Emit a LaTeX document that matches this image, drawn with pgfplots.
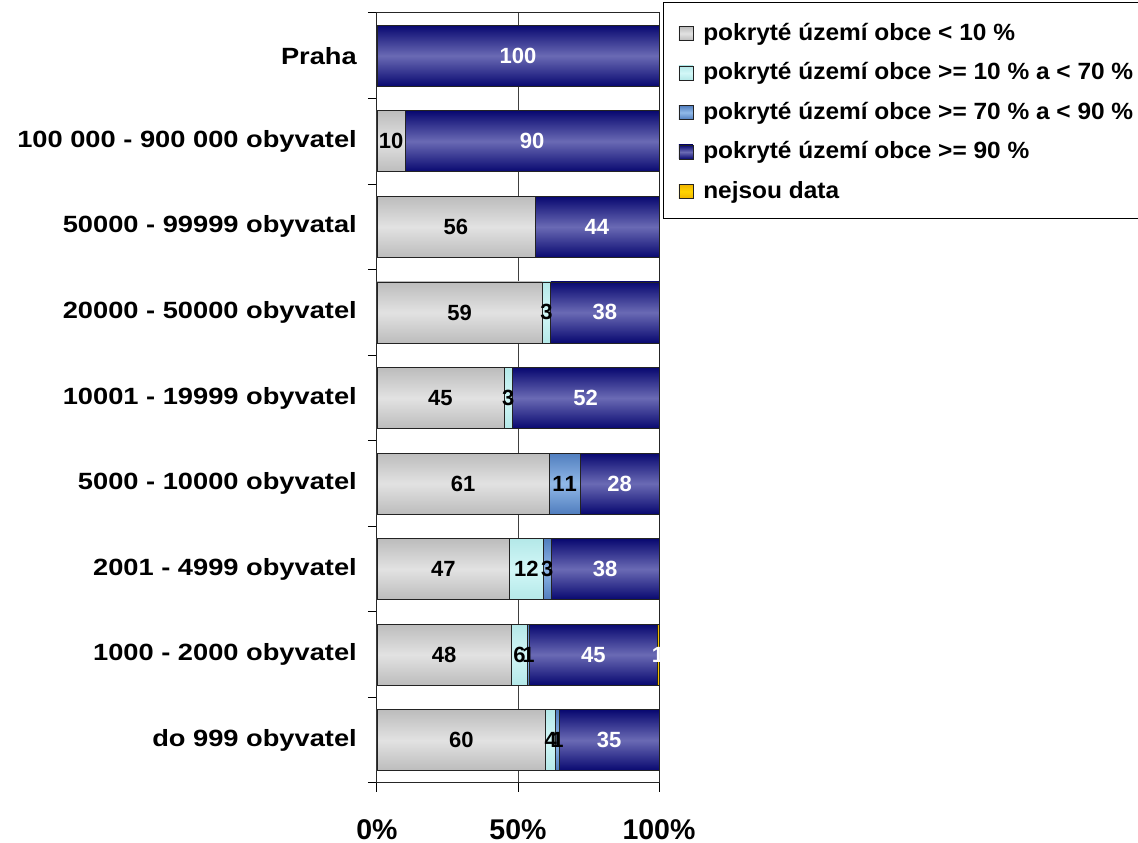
\documentclass[border=0pt]{standalone}
\usepackage{fontspec}
\setmainfont{Liberation Sans}[Kerning=Off]
\usepackage{graphicx}
\usepackage{pgfplots}
\usepackage{pgfplotstable}
\pgfplotsset{compat=1.18}

\definecolor{grayE}{RGB}{188,188,188}
\definecolor{grayM}{RGB}{226,226,226}
\definecolor{cyanE}{RGB}{180,232,232}
\definecolor{cyanM}{RGB}{210,247,247}
\definecolor{lbE}{RGB}{80,125,190}
\definecolor{lbM}{RGB}{145,185,232}
\definecolor{dbE}{RGB}{8,8,112}
\definecolor{dbM}{RGB}{106,106,180}
\definecolor{yelE}{RGB}{240,180,0}
\definecolor{yelM}{RGB}{255,212,0}
\definecolor{edge}{RGB}{35,35,35}

\newcommand{\lab}[1]{\scalebox{1.16}[1]{\bfseries\fontsize{23.5}{26}\selectfont #1}}
\newcommand{\leg}[1]{\scalebox{1.04}[1]{\bfseries\fontsize{23.5}{26}\selectfont #1}}

\pgfplotsset{
  segbar/.style n args={3}{
    only marks, scatter, mark=*, mark size=0pt, mark options={draw=none,fill=none},
    visualization depends on={\thisrow{#1} \as \w},
    scatter/@pre marker code/.code={%
      \pgfmathsetmacro\ww{\w*2.82}%
      \ifdim\ww pt>0.05pt
        \path[draw=edge, line width=0.8pt, top color=#2, bottom color=#2, middle color=#3]
          (-\ww pt,-30.5pt) rectangle (0pt,30.5pt);
      \fi},
    scatter/@post marker code/.code={},
    legend image code/.code={%
      \path[draw=edge, line width=0.8pt, top color=#2, bottom color=#2, middle color=#3]
        (0pt,0pt) rectangle (14pt,14pt);},
  },
}

\pgfplotstableread{
y a b c d e
8 0 0 0 100 0
7 10 0 0 90 0
6 56 0 0 44 0
5 58.6 3 0 38.4 0
4 45 3 0 52 0
3 61 0 11 28 0
2 47 12 2.8 38.2 0
1 47.6 5.8 0.7 45.2 0.7
0 59.8 3.6 1.2 35.4 0
}\datatable

\pgfplotstableread{
x y t
5 7 10
28 6 56
29.3 5 59
60.1 5 3
22.5 4 45
46.5 4 3
30.5 3 61
66.5 3 11
23.5 2 47
53 2 12
60.4 2 3
23.8 1 48
50.5 1 6
53.75 1 1
29.9 0 60
61.6 0 4
64 0 1
}\darklabels

\pgfplotstableread{
x y t
50 8 100
55 7 90
78 6 44
80.8 5 38
74 4 52
86 3 28
80.9 2 38
76.7 1 45
99.65 1 1
82.3 0 35
}\whitelabels

\begin{document}
\begin{tikzpicture}
\path[use as bounding box] (0,0) rectangle (1138pt,843pt);
\begin{axis}[
  at={(377pt,60pt)}, anchor=south west,
  scale only axis, width=282pt, height=770pt,
  xmin=0, xmax=100, ymin=-0.5, ymax=8.5,
  stack plots=x, clip=false,
  axis line style={draw=black!85, line width=1pt},
  xtick={0,50,100},
  xticklabels={\textbf{0\%},\textbf{50\%},\textbf{100\%}},
  ytick={0,...,8},
  yticklabels={\lab{do 999 obyvatel},\lab{1000 - 2000 obyvatel},\lab{2001 - 4999 obyvatel},\lab{5000 - 10000 obyvatel},\lab{10001 - 19999 obyvatel},\lab{20000 - 50000 obyvatel},\lab{50000 - 99999 obyvatal},\lab{100 000 - 900 000 obyvatel},\lab{Praha}},
  major tick length=0pt, minor tick length=9pt, tick align=outside,
  minor xtick={0,50,100}, minor ytick={-0.5,0.5,...,8.5},
  xtick pos=bottom, ytick pos=left,
  tick style={draw=black, line width=1pt},
  xmajorgrids, major grid style={draw=black!75, line width=1pt},
  yticklabel style={anchor=east, inner sep=0pt, xshift=-20pt},
  xticklabel style={anchor=north, inner sep=0pt, yshift=-36pt, font=\bfseries\fontsize{28.5}{30}\selectfont},
  legend cell align=left,
  legend style={at={(axis description cs:1.0142,1.0143)}, anchor=north west,
    draw=black, line width=1pt, inner xsep=15pt, inner ysep=17pt,
    row sep=15.5pt, column sep=10pt,
    cells={anchor=base west},
    nodes={inner sep=0pt, text height=21pt, text depth=3pt}},
]
\addplot[segbar={a}{grayE}{grayM}] table[x=a,y=y]{\datatable};
\addlegendentry{\leg{pokryté území obce < 10 \%}}
\addplot[segbar={b}{cyanE}{cyanM}] table[x=b,y=y]{\datatable};
\addlegendentry{\leg{pokryté území obce >= 10 \% a < 70 \%}}
\addplot[segbar={c}{lbE}{lbM}] table[x=c,y=y]{\datatable};
\addlegendentry{\leg{pokryté území obce >= 70 \% a < 90 \%}}
\addplot[segbar={d}{dbE}{dbM}] table[x=d,y=y]{\datatable};
\addlegendentry{\leg{pokryté území obce >= 90 \%}}
\addplot[segbar={e}{yelE}{yelM}] table[x=e,y=y]{\datatable};
\addlegendentry{\leg{nejsou data}}
\end{axis}
\begin{axis}[
  at={(377pt,60pt)}, anchor=south west,
  scale only axis, width=282pt, height=770pt,
  xmin=0, xmax=100, ymin=-0.5, ymax=8.5,
  hide axis, clip=false,
]
\addplot[only marks, mark=*, mark size=0pt, mark options={draw=none,fill=none},
  nodes near coords, point meta=explicit symbolic,
  nodes near coords style={anchor=center, inner sep=0pt, text=black, font=\bfseries\fontsize{22}{24}\selectfont}]
  table[x=x,y=y,meta=t]{\darklabels};
\addplot[only marks, mark=*, mark size=0pt, mark options={draw=none,fill=none},
  nodes near coords, point meta=explicit symbolic,
  nodes near coords style={anchor=center, inner sep=0pt, text=white, font=\bfseries\fontsize{22}{24}\selectfont}]
  table[x=x,y=y,meta=t]{\whitelabels};
\end{axis}
\end{tikzpicture}
\end{document}
